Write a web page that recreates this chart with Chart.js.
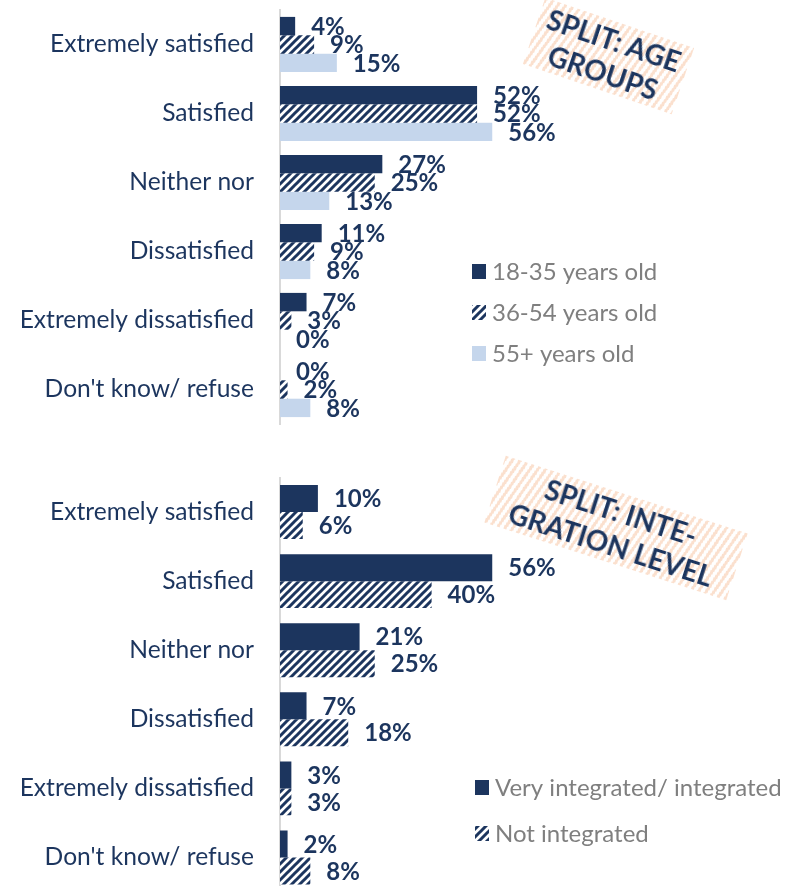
<!DOCTYPE html>
<html>
<head>
<meta charset="utf-8">
<script src="https://cdn.jsdelivr.net/npm/chart.js@4.4.1/dist/chart.umd.min.js"></script>
<style>
  html, body { margin: 0; padding: 0; background: #fff; overflow: hidden; }
  body { width: 795px; height: 886px; position: relative; }
  .box { position: absolute; left: 0; width: 795px; }
  #ageBox { top: 0; height: 430px; }
  #intBox { top: 472px; height: 420px; }
  .stamp {
    position: absolute; display: flex; align-items: center; justify-content: center;
    text-align: center; font-family: Lato, sans-serif; font-weight: 700;
    font-size: 28px; line-height: 34px; color: #1c355e; white-space: nowrap;
    background: repeating-linear-gradient(107deg, rgba(248,203,173,0.6) 0 3px, rgba(255,255,255,0) 3px 6.5px);
  }
  #stampAge { left: 530px; top: 21px; width: 157px; height: 70px; transform: rotate(18.7deg); }
  #stampInt { left: 489px; top: 493px; width: 254px; height: 70px; transform: rotate(17.8deg); }
</style>
</head>
<body>
<div class="box" id="ageBox"><canvas id="ageChart" width="795" height="430"></canvas></div>
<div class="box" id="intBox"><canvas id="intChart" width="795" height="420"></canvas></div>
<div class="stamp" id="stampAge">SPLIT: AGE<br>GROUPS</div>
<div class="stamp" id="stampInt">SPLIT: INTE-<br>GRATION LEVEL</div>
<script>
// ── data ───────────────────────────────
const categories = ['Extremely satisfied', 'Satisfied', 'Neither nor', 'Dissatisfied', 'Extremely dissatisfied', "Don't know/ refuse"];
const age1835 = [4, 52, 27, 11, 7, 0];
const age3654 = [9, 52, 25, 9, 3, 2];
const age55 = [15, 56, 13, 8, 0, 8];
const integrated = [10, 56, 21, 7, 3, 2];
const notIntegrated = [6, 40, 25, 18, 3, 8];

const navy = '#1c355e';
const lightBlue = '#c5d6ec';

// diagonal navy/white hatch
function hatch() {
  const c = document.createElement('canvas');
  c.width = 8; c.height = 8;
  const g = c.getContext('2d');
  g.fillStyle = '#fff'; g.fillRect(0, 0, 8, 8);
  g.strokeStyle = navy; g.lineWidth = 3;
  g.beginPath();
  g.moveTo(-2, 10); g.lineTo(10, -2);
  g.moveTo(-6, 6); g.lineTo(6, -6);
  g.moveTo(2, 14); g.lineTo(14, 2);
  g.stroke();
  return g.createPattern(c, 'repeat');
}

// value labels at the bar ends
const barLabels = {
  id: 'barLabels',
  afterDatasetsDraw(chart) {
    const ctx = chart.ctx;
    ctx.save();
    ctx.font = 'bold 24px Lato';
    ctx.fillStyle = navy;
    ctx.textBaseline = 'middle';
    ctx.textAlign = 'left';
    chart.data.datasets.forEach((ds, i) => {
      chart.getDatasetMeta(i).data.forEach((bar, j) => {
        ctx.fillText(ds.data[j] + '%', bar.x + 16, bar.y + 1);
      });
    });
    ctx.restore();
  }
};

// legend placed inside the plot, right of the bars
const sideLegend = {
  id: 'sideLegend',
  afterDraw(chart, args, opts) {
    const ctx = chart.ctx;
    ctx.save();
    ctx.font = '24px Lato';
    ctx.textBaseline = 'middle';
    chart.data.datasets.forEach((ds, i) => {
      const y = opts.rows[i];
      ctx.fillStyle = ds.backgroundColor;
      ctx.fillRect(opts.x, y - 7, 14, 15);
      ctx.fillStyle = '#7f7f7f';
      ctx.fillText(ds.label, opts.x + 20, y + 1);
    });
    ctx.restore();
  }
};

function makeChart(id, datasets, catPct, pad, legend) {
  return new Chart(document.getElementById(id), {
    type: 'bar',
    data: { labels: categories, datasets },
    options: {
      indexAxis: 'y',
      responsive: false,
      animation: false,
      layout: { padding: { top: pad[0], bottom: pad[1], left: 0, right: 136 } },
      datasets: { bar: { categoryPercentage: catPct, barPercentage: 1 } },
      plugins: { legend: { display: false }, tooltip: { enabled: false }, sideLegend: legend },
      scales: {
        x: { display: false, min: 0, max: 100 },
        y: {
          afterFit: s => { s.width = 280; s.paddingTop = 0; s.paddingBottom = 0; },
          grid: { display: false, drawTicks: false },
          border: { display: true, color: '#d9d9d9', width: 2 },
          ticks: { color: navy, font: { family: 'Lato', size: 24.6 }, padding: 26 }
        }
      }
    },
    plugins: [barLabels, sideLegend]
  });
}

const pat = hatch();

makeChart('ageChart', [
  { label: '18-35 years old', data: age1835, backgroundColor: navy },
  { label: '36-54 years old', data: age3654, backgroundColor: pat },
  { label: '55+ years old', data: age55, backgroundColor: lightBlue }
], 0.8, [10, 6], { x: 472, rows: [271, 312, 353] });

makeChart('intChart', [
  { label: 'Very integrated/ integrated', data: integrated, backgroundColor: navy },
  { label: 'Not integrated', data: notIntegrated, backgroundColor: pat }
], 0.78, [5.5, 0], { x: 475, rows: [315, 361] });
</script>
</body>
</html>
